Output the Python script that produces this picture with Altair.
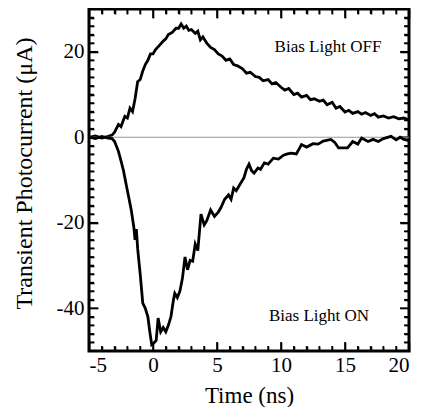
import altair as alt
import pandas as pd

# Bias Light OFF trace (time ns, current uA)
t_off = [-5, -4.5, -4, -3.5, -3.2, -3, -2.7, -2.5, -2.2, -2, -1.8, -1.6, -1.4, -1.2, -1.0, -0.8, -0.6,
         -0.4, -0.2, 0, 0.2, 0.5, 0.8, 1.0, 1.2, 1.5, 1.8, 2.0, 2.2, 2.4, 2.6, 2.8, 3.0, 3.3, 3.5, 3.7,
         3.9, 4.2, 4.5, 4.8, 5.1, 5.4, 5.7, 6.0, 6.3, 6.6, 7.0, 7.3, 7.6, 8.0, 8.3, 8.6, 9.0, 9.3, 9.6,
         10.0, 10.3, 10.6, 11.0, 11.3, 11.6, 12.0, 12.3, 12.6, 13.0, 13.3, 13.6, 14.0, 14.3, 14.6, 15.0,
         15.3, 15.6, 16.0, 16.3, 16.6, 17.0, 17.3, 17.6, 18.0, 18.4, 18.8, 19.2, 19.6, 20]
i_off = [0, 0.3, -0.2, 0.2, 0.5, 1.2, 3, 2.5, 4.9, 4.5, 6.8, 6, 9, 13, 13.5, 15.5, 17,
         18, 19.5, 19.5, 20.5, 21.5, 22.5, 23, 24, 24.5, 25.5, 25.5, 26.5, 25.5, 26, 25, 25.2, 24.3, 24.8, 22.8,
         23.5, 22, 21, 20.5, 19.5, 19, 18, 18.3, 17, 16.7, 16, 15, 15.2, 14.2, 14, 13.2, 13.5, 12.5, 12.8,
         11.7, 11, 11.4, 10, 10.3, 9.4, 9.8, 8.8, 9.0, 8.4, 8.7, 7.6, 8.2, 6.8, 7.2, 5.9,
         6.3, 5.6, 6.0, 5.4, 5.8, 5.1, 5.5, 4.7, 5.0, 4.5, 4.8, 4.3, 4.5, 4.0]

# Bias Light ON trace
t_on = [-5, -4.5, -4, -3.5, -3.2, -3, -2.7, -2.5, -2.3, -2.1, -1.9, -1.7, -1.5, -1.4, -1.3, -1.2, -1.0,
        -0.8, -0.6, -0.4, -0.25, -0.1, 0.1, 0.25, 0.4, 0.6, 0.8, 1.0, 1.2, 1.4, 1.6, 1.7, 1.9, 2.1, 2.3,
        2.5, 2.7, 2.9, 3.1, 3.3, 3.5, 3.75, 4.0, 4.2, 4.5, 4.8, 5.1, 5.3, 5.6, 5.9, 6.1, 6.3, 6.5, 6.8,
        7.1, 7.3, 7.5, 7.7, 7.9, 8.2, 8.4, 8.7, 9.0, 9.4, 9.8, 10.2, 10.5, 10.8, 11.2, 11.6, 12.0, 12.5,
        12.9, 13.3, 13.9, 14.2, 14.5, 15.2, 15.6, 16.0, 16.3, 16.8, 17.2, 17.6, 18.0, 18.6, 19.0, 19.3,
        19.6, 20]
i_on = [0, -0.3, 0.2, -0.2, -0.3, -1, -3.3, -5.5, -7.9, -11, -14, -17, -21, -24, -21.5, -26, -32,
        -38.8, -40, -42, -45.5, -48.5, -48, -47.5, -42.3, -45.5, -44.5, -45.5, -44, -42, -38, -36.5, -37.5, -36, -33,
        -28, -31, -28.8, -29, -25, -26.5, -18, -20.5, -19.5, -17, -18.5, -17.5, -16.5, -14.5, -13.5, -14.5, -11.9, -12.5, -11,
        -9.5, -7.5, -6.3, -7.8, -8.4, -7.2, -7.5, -6.0, -6.3, -4.9, -5.1, -4.2, -3.9, -3.7, -3.9, -1.7, -2.3, -1.5,
        -1.6, -0.9, -0.5, -1.2, -2.5, -2.5, -1.0, -1.6, -0.2, -1.0, -0.5, -1.0, -0.3, 0.2, -0.6, 0,
        -0.5, -0.8]

x_major = [-5, 0, 5, 10, 15, 20]
y_major = [-40, -20, 0, 20]
x_minor = [v for v in range(-5, 21) if v % 5 != 0]
y_minor = [v for v in range(-48, 30, 2) if v % 20 != 0]

ann_text = ["Bias Light OFF", "Bias Light ON"]
ann_x = [13.67, 12.97]
ann_y = [20.0, -42.9]

W, H = 320, 342
FONT = "Liberation Serif"
MAJ, MIN = 9, 5

xs = alt.Scale(domain=[-5, 20], nice=False, zero=False)
ys = alt.Scale(domain=[-50, 30], nice=False, zero=False)

xaxis = alt.Axis(values=x_major, ticks=False, grid=False, domain=False, labelPadding=3,
                 labelFont=FONT, labelFontSize=21, labelColor="black",
                 labelExpr="'' + datum.value",
                 title="Time (ns)", titleFont=FONT, titleFontSize=23, titlePadding=9,
                 titleFontWeight="normal", titleColor="black")
yaxis = alt.Axis(values=y_major, ticks=False, grid=False, domain=False, labelPadding=5,
                 labelFont=FONT, labelFontSize=21, labelColor="black",
                 labelExpr="'' + datum.value",
                 title="Transient Photocurrent (μA)", titleFont=FONT, titleFontSize=24,
                 titlePadding=20, titleY=164, titleFontWeight="normal", titleColor="black")

line_off = alt.Chart(pd.DataFrame({"t": t_off, "i": i_off})).mark_line(
    color="black", strokeWidth=2.8).encode(
    x=alt.X("t:Q", scale=xs, axis=xaxis), y=alt.Y("i:Q", scale=ys, axis=yaxis))

line_on = alt.Chart(pd.DataFrame({"t": t_on, "i": i_on})).mark_line(
    color="black", strokeWidth=2.8).encode(
    x=alt.X("t:Q", scale=xs, axis=None), y=alt.Y("i:Q", scale=ys, axis=None))


def tick_axis(vals, orient, offset, size):
    # an inward-facing, label-free axis that only draws tick marks
    return alt.Axis(values=vals, orient=orient, offset=offset, tickSize=size, tickWidth=1.6,
                    tickColor="black", labels=False, domain=False, grid=False, title="")


def mk(vals, ch, ax, **enc):
    d = pd.DataFrame({"v": vals})
    if ch == "x":
        e = {"x": alt.X("v:Q", scale=xs, axis=ax)}
    else:
        e = {"y": alt.Y("v:Q", scale=ys, axis=ax)}
    e.update(enc)
    return alt.Chart(d).mark_rule(color="black", strokeWidth=1.6).encode(**e)


tick_layers = [
    mk(x_major, "x", tick_axis(x_major, "top", -H, MAJ), y=alt.value(H), y2=alt.value(H - MAJ)),
    mk(x_minor, "x", tick_axis(x_minor, "top", -H, MIN), y=alt.value(H), y2=alt.value(H - MIN)),
    mk(x_major, "x", tick_axis(x_major, "bottom", -H, MAJ), y=alt.value(0), y2=alt.value(MAJ)),
    mk(x_minor, "x", tick_axis(x_minor, "bottom", -H, MIN), y=alt.value(0), y2=alt.value(MIN)),
    mk(y_major, "y", tick_axis(y_major, "right", -W, MAJ), x=alt.value(0), x2=alt.value(MAJ)),
    mk(y_minor, "y", tick_axis(y_minor, "right", -W, MIN), x=alt.value(0), x2=alt.value(MIN)),
    mk(y_major, "y", tick_axis(y_major, "left", -W, MAJ), x=alt.value(W), x2=alt.value(W - MAJ)),
    mk(y_minor, "y", tick_axis(y_minor, "left", -W, MIN), x=alt.value(W), x2=alt.value(W - MIN)),
]

zero = alt.Chart(pd.DataFrame({"zy": [0]})).mark_rule(color="#999999", strokeWidth=1).encode(
    y=alt.Y("zy:Q", scale=ys, axis=None))

ann = alt.Chart(pd.DataFrame({"ax": ann_x, "ay": ann_y, "s": ann_text})).mark_text(
    font=FONT, fontSize=17, color="black", align="center", baseline="alphabetic").encode(
    x=alt.X("ax:Q", scale=xs, axis=None), y=alt.Y("ay:Q", scale=ys, axis=None), text="s:N")

chart = alt.layer(line_off, *tick_layers, zero, line_on, ann).resolve_axis(
    x="independent", y="independent"
).properties(
    width=W, height=H,
    padding={"left": 4, "top": 0, "right": 0, "bottom": 0},
).configure_view(stroke="black", strokeWidth=3)

chart.save("out.html", embed_options={"renderer": "svg", "actions": False})
